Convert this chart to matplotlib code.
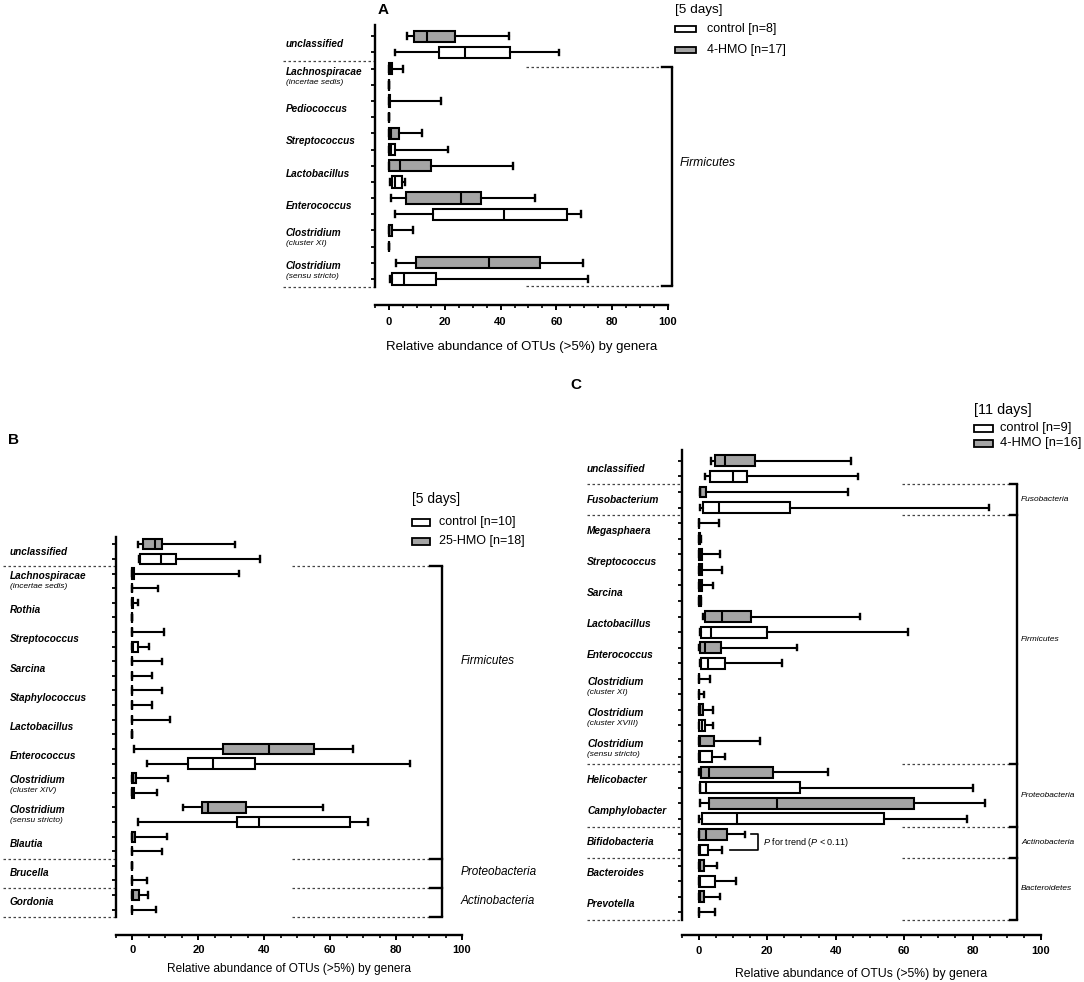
import matplotlib
matplotlib.use('Agg')
import matplotlib.pyplot as plt
from matplotlib import transforms
from matplotlib.patches import Rectangle
import numpy as np

plt.rcParams['font.family'] = ['Liberation Sans', 'DejaVu Sans']
plt.rcParams['mathtext.fontset'] = 'custom'
plt.rcParams['mathtext.rm'] = 'Liberation Sans'
plt.rcParams['mathtext.it'] = 'Liberation Sans:italic'

W, H = 1084, 982
GRAY = '#a4a4a4'

# ---------------- Panel A data (5 days, 4-HMO vs control) ----------------
A_genera = ['unclassified', 'Lachnospiracae', 'Pediococcus', 'Streptococcus',
            'Lactobacillus', 'Enterococcus', 'Clostridium', 'Clostridium']
A_sub = ['', '(incertae sedis)', '', '', '', '', '(cluster XI)', '(sensu stricto)']
# each row: [whisker low, Q1, median, Q3, whisker high]
A_hmo = [[6.6, 9.0, 13.7, 23.5, 43.0],
         [0, 0, 0.3, 1.2, 5.0],
         [0, 0, 0, 0.5, 18.6],
         [0, 0, 0.6, 3.6, 12.0],
         [0, 0, 4.0, 15.0, 44.4],
         [0.6, 6.2, 25.7, 33.1, 52.3],
         [0, 0, 0, 1.0, 8.7],
         [2.7, 9.8, 35.8, 54.1, 69.7]]
A_ctrl = [[2.2, 17.9, 27.1, 43.4, 61.0],
          [0, 0, 0, 0, 0],
          [0, 0, 0, 0, 0],
          [0, 0, 0.8, 2.0, 21.3],
          [0.4, 1.1, 2.2, 4.8, 5.6],
          [2.2, 15.7, 41.3, 63.7, 69.0],
          [0, 0, 0, 0, 0],
          [0.2, 1.0, 5.4, 16.7, 71.3]]
A_phyla = ['Firmicutes']

# ---------------- Panel B data (5 days, 25-HMO vs control) ----------------
B_genera = ['unclassified', 'Lachnospiracae', 'Rothia', 'Streptococcus', 'Sarcina',
            'Staphylococcus', 'Lactobacillus', 'Enterococcus', 'Clostridium',
            'Clostridium', 'Blautia', 'Brucella', 'Gordonia']
B_sub = ['', '(incertae sedis)', '', '', '', '', '', '', '(cluster XIV)',
         '(sensu stricto)', '', '', '']
B_hmo = [[1.7, 3.1, 6.7, 9.1, 31.2],
         [0, 0, 0, 0.6, 32.3],
         [0, 0, 0, 0.3, 1.6],
         [0, 0, 0, 0, 9.7],
         [0, 0, 0, 0, 9.0],
         [0, 0, 0, 0, 9.1],
         [0, 0, 0, 0, 11.3],
         [0.4, 27.4, 41.3, 55.1, 67.0],
         [0, 0, 0.2, 1.2, 10.7],
         [15.4, 21.0, 22.8, 34.6, 57.8],
         [0, 0, 0, 0.8, 10.5],
         [0, 0, 0, 0, 0],
         [0, 0, 0.3, 1.9, 4.8]]
B_ctrl = [[1.9, 2.3, 8.8, 13.2, 38.8],
          [0, 0, 0, 0, 7.6],
          [0, 0, 0, 0, 0],
          [0, 0, 0.2, 1.6, 5.0],
          [0, 0, 0, 0, 5.9],
          [0, 0, 0, 0, 6.0],
          [0, 0, 0, 0, 0],
          [4.5, 17.0, 24.5, 37.3, 84.1],
          [0, 0, 0, 0.5, 7.5],
          [1.6, 31.8, 38.3, 66.0, 71.6],
          [0, 0, 0, 0, 8.9],
          [0, 0, 0, 0, 4.3],
          [0, 0, 0, 0, 7.2]]
B_phyla = ['Firmicutes', 'Proteobacteria', 'Actinobacteria']

# ---------------- Panel C data (11 days, 4-HMO vs control) ----------------
C_genera = ['unclassified', 'Fusobacterium', 'Megasphaera', 'Streptococcus', 'Sarcina',
            'Lactobacillus', 'Enterococcus', 'Clostridium', 'Clostridium', 'Clostridium',
            'Helicobacter', 'Camphylobacter', 'Bifidobacteria', 'Bacteroides', 'Prevotella']
C_sub = ['', '', '', '', '', '', '', '(cluster XI)', '(cluster XVIII)', '(sensu stricto)',
         '', '', '', '', '']
C_hmo = [[3.5, 4.8, 7.7, 16.3, 44.4],
         [0.3, 0.3, 0.5, 2.2, 43.5],
         [0, 0, 0, 0, 5.8],
         [0, 0, 0.3, 1.1, 6.1],
         [0, 0, 0.3, 1.0, 4.1],
         [1.2, 1.7, 6.8, 15.4, 47.0],
         [0.2, 0.4, 1.8, 6.5, 28.8],
         [0, 0, 0, 0, 3.3],
         [0, 0, 0.5, 1.3, 4.1],
         [0, 0, 0.5, 4.5, 18.0],
         [0.2, 0.7, 3.0, 21.6, 37.8],
         [0.4, 3.0, 22.8, 62.9, 83.7],
         [0, 0, 2.0, 8.4, 13.5],
         [0, 0, 0.5, 1.4, 5.2],
         [0, 0, 0.5, 1.5, 6.3]]
C_ctrl = [[1.8, 3.4, 10.0, 14.1, 46.4],
          [0.3, 1.3, 5.8, 26.8, 84.7],
          [0, 0, 0.2, 0.5, 0.6],
          [0, 0, 0.3, 1.0, 6.7],
          [0, 0, 0.2, 0.6, 0.7],
          [0.3, 0.6, 3.7, 20.0, 61.0],
          [0.3, 0.6, 2.7, 7.8, 24.4],
          [0, 0, 0, 0, 1.4],
          [0, 0, 0.9, 1.7, 4.3],
          [0, 0, 0.5, 3.9, 7.7],
          [0.3, 0.4, 2.0, 29.6, 80.1],
          [0.2, 0.9, 11.2, 54.0, 78.4],
          [0, 0, 0.5, 2.6, 6.8],
          [0, 0, 0.5, 4.9, 10.8],
          [0, 0, 0, 0, 4.9]]
C_phyla = ['Fusobacteria', 'Firmicutes', 'Proteobacteria', 'Actinobacteria', 'Bacteroidetes']

XLABEL = 'Relative abundance of OTUs (>5%) by genera'

fig = plt.figure(figsize=(W / 100, H / 100), dpi=100)


def fx(px):
    return px / W


def fy(py):
    return 1 - py / H


def make_axes(left, right, top, bottom):
    return fig.add_axes([fx(left), fy(bottom), (right - left) / W, (bottom - top) / H])


def stats(rows):
    return [dict(whislo=a, q1=b, med=c, q3=d, whishi=e, fliers=[]) for a, b, c, d, e in rows]


def draw_panel(ax, genera, subs, hmo, ctrl, ylim, row_px, label_px, sep_px, spine_px,
               seps, axis_off, tick_pad, labelpad, xlabel_size, name_size):
    n = len(genera)
    pos_h = [2 * i for i in range(n)]
    pos_c = [2 * i + 1 for i in range(n)]
    common = dict(orientation='horizontal', widths=0.7, patch_artist=True, showfliers=False,
                  capwidths=0.36, manage_ticks=False,
                  whiskerprops=dict(color='black', lw=1.5),
                  capprops=dict(color='black', lw=1.7),
                  medianprops=dict(color='black', lw=1.5))
    ax.bxp(stats(hmo), positions=pos_h,
           boxprops=dict(facecolor=GRAY, edgecolor='black', lw=1.5), **common)
    ax.bxp(stats(ctrl), positions=pos_c,
           boxprops=dict(facecolor='white', edgecolor='black', lw=1.5), **common)
    ax.set_xlim(-5, 100)
    ax.set_ylim(*ylim)
    for s in ['top', 'right']:
        ax.spines[s].set_visible(False)
    ax.spines['left'].set_linewidth(1.7)
    ax.spines['bottom'].set_linewidth(1.7)
    ax.spines['bottom'].set_position(('outward', axis_off))
    ax.spines['bottom'].set_bounds(-5, 100)
    ax.set_xticks(range(0, 101, 20))
    ax.set_xticks(np.arange(-5, 101, 5), minor=True)
    ax.set_yticks(range(2 * n))
    ax.set_yticklabels([])
    ax.tick_params(axis='y', length=3, width=1.3, direction='out')
    ax.tick_params(axis='x', which='major', length=3.5, width=1.4, pad=tick_pad, labelsize=8)
    ax.tick_params(axis='x', which='minor', length=2.5, width=1.2)
    for t in ax.get_xticklabels():
        t.set_fontweight('bold')
    ax.set_xlabel(XLABEL, fontsize=xlabel_size, labelpad=labelpad)
    ax.set_facecolor('none')

    blend = transforms.blended_transform_factory(fig.transFigure, ax.transData)
    for i, (g, s) in enumerate(zip(genera, subs)):
        c = 2 * i + 0.5
        if s:
            ax.text(fx(label_px), c - 5.0 / row_px, g, transform=blend, fontsize=name_size,
                    fontweight='bold', fontstyle='italic', ha='left', va='center')
            ax.text(fx(label_px), c + 5.5 / row_px, s, transform=blend, fontsize=6,
                    fontstyle='italic', ha='left', va='center')
        else:
            ax.text(fx(label_px), c, g, transform=blend, fontsize=name_size,
                    fontweight='bold', fontstyle='italic', ha='left', va='center')
    for b in seps:
        ax.plot([fx(sep_px), fx(spine_px)], [b, b], transform=blend, color='#444444',
                lw=0.9, ls=(0, (2, 2)), clip_on=False)


def draw_bracket(ax, bounds, xd0, xd1, xb, names, name_rows, name_x, size):
    ax.plot([xb, xb], [bounds[0], bounds[-1]], color='black', lw=1.7, clip_on=False,
            solid_capstyle='butt')
    for b in bounds:
        ax.plot([xd0, xd1], [b, b], color='#444444', lw=0.9, ls=(0, (2, 2)), clip_on=False)
        ax.plot([xd1, xb], [b, b], color='black', lw=1.7, clip_on=False)
    for nm, r in zip(names, name_rows):
        ax.text(name_x, r, nm, fontsize=size, fontstyle='italic', ha='left', va='center')


def legend(title, items, x_patch, x_text, y_title, y_items, title_size, item_size, pw, ph):
    fig.text(fx(x_patch), fy(y_title), title, fontsize=title_size, ha='left', va='center')
    for (lab, col), y in zip(items, y_items):
        fig.add_artist(Rectangle((fx(x_patch), fy(y + ph / 2)), pw / W, ph / H,
                                 transform=fig.transFigure, facecolor=col,
                                 edgecolor='black', lw=1.3))
        fig.text(fx(x_text), fy(y), lab, fontsize=item_size, ha='left', va='center')


# ---------------- Panel A ----------------
axA = make_axes(375, 668, 25, 287)
draw_panel(axA, A_genera, A_sub, A_hmo, A_ctrl, (15.5, -0.7), 16.2, 286, 283, 375,
           [1.5, 15.5], 13, 5, 10, 9.5, 7.2)
draw_bracket(axA, [1.9, 15.45], 49, 98, 101.5, A_phyla, [7.84], 104.3, 8.7)
legend('[5 days]', [('control [n=8]', 'white'), ('4-HMO [n=17]', GRAY)],
       675, 707, 10, [29, 50], 9.7, 9, 21, 6)
fig.text(fx(378), fy(10), 'A', fontsize=11, fontweight='bold', ha='left', va='center')

# ---------------- Panel B ----------------
axB = make_axes(116, 462, 537, 917)
draw_panel(axB, B_genera, B_sub, B_hmo, B_ctrl, (25.5, -0.5), 14.64, 10, 3, 116,
           [1.5, 21.5, 23.5, 25.5], 13, 4, 5.5, 8.6, 7.2)
draw_bracket(axB, [1.5, 21.5, 23.5, 25.5], 48.5, 90.4, 94, B_phyla,
             [8.0, 22.4, 24.4], 99.5, 8.5)
legend('[5 days]', [('control [n=10]', 'white'), ('25-HMO [n=18]', GRAY)],
       412, 439, 499, [522, 541], 9.9, 9, 18, 7)
fig.text(fx(8), fy(440), 'B', fontsize=11, fontweight='bold', ha='left', va='center')

# ---------------- Panel C ----------------
axC = make_axes(681.6, 1041, 450, 920)
draw_panel(axC, C_genera, C_sub, C_hmo, C_ctrl, (29.5, -0.7), 15.6, 587, 587, 681.6,
           [1.5, 3.5, 19.5, 23.5, 25.5, 29.5], 11, 4, 9, 8.8, 7.3)
draw_bracket(axC, [1.5, 3.5, 19.5, 23.5, 25.5, 29.5], 59.5, 90.8, 93, C_phyla,
             [2.5, 11.5, 21.5, 24.5, 27.5], 94.2, 6)
legend('[11 days]', [('control [n=9]', 'white'), ('4-HMO [n=16]', GRAY)],
       974, 1000, 410, [428, 443], 10.4, 9.3, 19, 7)
fig.text(fx(570), fy(385), 'C', fontsize=11, fontweight='bold', ha='left', va='center')

# P for trend bracket (Bifidobacteria rows 24/25)
axC.plot([15.3, 17.2, 17.2, 9.2], [24, 24, 25, 25], color='black', lw=1.2)
axC.text(18.7, 24.5, r'$P$ for trend ($P$ < 0.11)', fontsize=6.5, ha='left', va='center')

fig.savefig('out.png', dpi=100)
